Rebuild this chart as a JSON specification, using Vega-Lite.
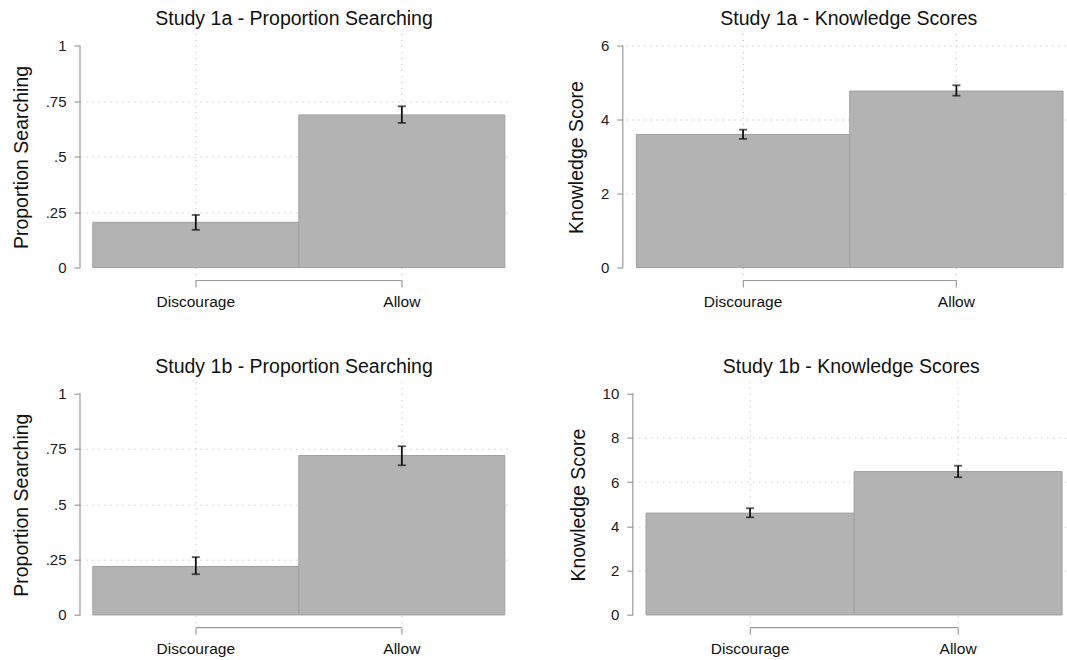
{
  "$schema": "https://vega.github.io/schema/vega-lite/v6.json",
  "datasets": {
    "bars": [
      {"panel": "1a_prop", "group": "Discourage", "mean": 0.204, "lo": 0.170, "hi": 0.237},
      {"panel": "1a_prop", "group": "Allow", "mean": 0.688, "lo": 0.652, "hi": 0.727},
      {"panel": "1a_know", "group": "Discourage", "mean": 3.60, "lo": 3.48, "hi": 3.73},
      {"panel": "1a_know", "group": "Allow", "mean": 4.775, "lo": 4.65, "hi": 4.93},
      {"panel": "1b_prop", "group": "Discourage", "mean": 0.219, "lo": 0.184, "hi": 0.261},
      {"panel": "1b_prop", "group": "Allow", "mean": 0.720, "lo": 0.676, "hi": 0.762},
      {"panel": "1b_know", "group": "Discourage", "mean": 4.60, "lo": 4.41, "hi": 4.82},
      {"panel": "1b_know", "group": "Allow", "mean": 6.475, "lo": 6.22, "hi": 6.74}
    ]
  },
  "padding": {"left": 10.5, "top": 8.5, "right": 0, "bottom": 0},
  "spacing": 47.2,
  "vconcat": [
    {
      "spacing": 49.3,
      "hconcat": [
        {
          "width": 431, "height": 247,
          "title": {"text": "Study 1a - Proportion Searching", "dx": -7},
          "data": {"name": "bars"},
          "transform": [{"filter": "datum.panel == '1a_prop'"}],
          "encoding": {
            "x": {"field": "group", "type": "nominal", "sort": ["Discourage", "Allow"],
                  "scale": {"paddingInner": 0, "paddingOuter": 0.046, "align": 0.385}}
          },
          "layer": [
            {"mark": {"type": "bar", "fill": "#b3b3b3", "stroke": "#a0a0a0", "strokeWidth": 1},
             "encoding": {
               "y": {"field": "mean", "type": "quantitative", "title": "Proportion Searching",
                     "scale": {"domain": [-0.0585, 1.0553], "nice": false, "zero": false},
                     "axis": {"values": [0, 0.25, 0.5, 0.75, 1],
                              "gridOpacity": {"condition": {"test": "datum.value == 0 || datum.value == 1", "value": 0}, "value": 1}}},
               "y2": {"datum": 0}
             }},
            {"mark": {"type": "rule", "color": "#111111", "strokeWidth": 1.8},
             "encoding": {"y": {"field": "lo", "type": "quantitative"}, "y2": {"field": "hi"}}},
            {"mark": {"type": "tick", "color": "#111111", "thickness": 1.8},
             "encoding": {"y": {"field": "lo", "type": "quantitative"}, "size": {"value": 8}}},
            {"mark": {"type": "tick", "color": "#111111", "thickness": 1.8},
             "encoding": {"y": {"field": "hi", "type": "quantitative"}, "size": {"value": 8}}},
            {"transform": [{"filter": "datum.group == 'Allow'"}],
             "mark": {"type": "rule", "color": "#9a9a9a", "strokeWidth": 1.2},
             "encoding": {"x": {"datum": "Discourage"}, "x2": {"datum": "Allow"}, "y": {"value": "height"}}},
            {"transform": [{"filter": "datum.group == 'Allow'"}],
             "mark": {"type": "rule", "color": "#9a9a9a", "strokeWidth": 1.2, "xOffset": -5.5},
             "encoding": {"x": {"value": 0}, "y": {"datum": 0}, "y2": {"datum": 1}}}
          ]
        },
        {
          "width": 442, "height": 247,
          "title": {"text": "Study 1a - Knowledge Scores", "dx": 2},
          "data": {"name": "bars"},
          "transform": [{"filter": "datum.panel == '1a_know'"}],
          "encoding": {
            "x": {"field": "group", "type": "nominal", "sort": ["Discourage", "Allow"],
                  "scale": {"paddingInner": 0, "paddingOuter": 0.036, "align": 0.69}}
          },
          "layer": [
            {"mark": {"type": "bar", "fill": "#b3b3b3", "stroke": "#a0a0a0", "strokeWidth": 1},
             "encoding": {
               "y": {"field": "mean", "type": "quantitative", "title": "Knowledge Score",
                     "scale": {"domain": [-0.351, 6.332], "nice": false, "zero": false},
                     "axis": {"values": [0, 2, 4, 6], "offset": 3,
                              "gridOpacity": {"condition": {"test": "datum.value == 0", "value": 0}, "value": 1}}},
               "y2": {"datum": 0}
             }},
            {"mark": {"type": "rule", "color": "#111111", "strokeWidth": 1.8},
             "encoding": {"y": {"field": "lo", "type": "quantitative"}, "y2": {"field": "hi"}}},
            {"mark": {"type": "tick", "color": "#111111", "thickness": 1.8},
             "encoding": {"y": {"field": "lo", "type": "quantitative"}, "size": {"value": 8}}},
            {"mark": {"type": "tick", "color": "#111111", "thickness": 1.8},
             "encoding": {"y": {"field": "hi", "type": "quantitative"}, "size": {"value": 8}}},
            {"transform": [{"filter": "datum.group == 'Allow'"}],
             "mark": {"type": "rule", "color": "#9a9a9a", "strokeWidth": 1.2},
             "encoding": {"x": {"datum": "Discourage"}, "x2": {"datum": "Allow"}, "y": {"value": "height"}}},
            {"transform": [{"filter": "datum.group == 'Allow'"}],
             "mark": {"type": "rule", "color": "#9a9a9a", "strokeWidth": 1.2, "xOffset": -3},
             "encoding": {"x": {"value": 0}, "y": {"datum": 0}, "y2": {"datum": 6}}}
          ]
        }
      ]
    },
    {
      "spacing": 51.3,
      "hconcat": [
        {
          "width": 431, "height": 246,
          "title": {"text": "Study 1b - Proportion Searching", "dx": -7},
          "data": {"name": "bars"},
          "transform": [{"filter": "datum.panel == '1b_prop'"}],
          "encoding": {
            "x": {"field": "group", "type": "nominal", "sort": ["Discourage", "Allow"],
                  "scale": {"paddingInner": 0, "paddingOuter": 0.046, "align": 0.385}}
          },
          "layer": [
            {"mark": {"type": "bar", "fill": "#b3b3b3", "stroke": "#a0a0a0", "strokeWidth": 1},
             "encoding": {
               "y": {"field": "mean", "type": "quantitative", "title": "Proportion Searching",
                     "scale": {"domain": [-0.0575, 1.0535], "nice": false, "zero": false},
                     "axis": {"values": [0, 0.25, 0.5, 0.75, 1],
                              "gridOpacity": {"condition": {"test": "datum.value == 0 || datum.value == 1", "value": 0}, "value": 1}}},
               "y2": {"datum": 0}
             }},
            {"mark": {"type": "rule", "color": "#111111", "strokeWidth": 1.8},
             "encoding": {"y": {"field": "lo", "type": "quantitative"}, "y2": {"field": "hi"}}},
            {"mark": {"type": "tick", "color": "#111111", "thickness": 1.8},
             "encoding": {"y": {"field": "lo", "type": "quantitative"}, "size": {"value": 8}}},
            {"mark": {"type": "tick", "color": "#111111", "thickness": 1.8},
             "encoding": {"y": {"field": "hi", "type": "quantitative"}, "size": {"value": 8}}},
            {"transform": [{"filter": "datum.group == 'Allow'"}],
             "mark": {"type": "rule", "color": "#9a9a9a", "strokeWidth": 1.2},
             "encoding": {"x": {"datum": "Discourage"}, "x2": {"datum": "Allow"}, "y": {"value": "height"}}},
            {"transform": [{"filter": "datum.group == 'Allow'"}],
             "mark": {"type": "rule", "color": "#9a9a9a", "strokeWidth": 1.2, "xOffset": -5.5},
             "encoding": {"x": {"value": 0}, "y": {"datum": 0}, "y2": {"datum": 1}}}
          ]
        },
        {
          "width": 429, "height": 246,
          "title": {"text": "Study 1b - Knowledge Scores", "dx": -2},
          "data": {"name": "bars"},
          "transform": [{"filter": "datum.panel == '1b_know'"}],
          "encoding": {
            "x": {"field": "group", "type": "nominal", "sort": ["Discourage", "Allow"],
                  "scale": {"paddingInner": 0, "paddingOuter": 0.031, "align": 0.56}}
          },
          "layer": [
            {"mark": {"type": "bar", "fill": "#b3b3b3", "stroke": "#a0a0a0", "strokeWidth": 1},
             "encoding": {
               "y": {"field": "mean", "type": "quantitative", "title": "Knowledge Score",
                     "scale": {"domain": [-0.575, 10.535], "nice": false, "zero": false},
                     "axis": {"values": [0, 2, 4, 6, 8, 10], "offset": 6,
                              "gridOpacity": {"condition": {"test": "datum.value == 0 || datum.value == 10", "value": 0}, "value": 1}}},
               "y2": {"datum": 0}
             }},
            {"mark": {"type": "rule", "color": "#111111", "strokeWidth": 1.8},
             "encoding": {"y": {"field": "lo", "type": "quantitative"}, "y2": {"field": "hi"}}},
            {"mark": {"type": "tick", "color": "#111111", "thickness": 1.8},
             "encoding": {"y": {"field": "lo", "type": "quantitative"}, "size": {"value": 8}}},
            {"mark": {"type": "tick", "color": "#111111", "thickness": 1.8},
             "encoding": {"y": {"field": "hi", "type": "quantitative"}, "size": {"value": 8}}},
            {"transform": [{"filter": "datum.group == 'Allow'"}],
             "mark": {"type": "rule", "color": "#9a9a9a", "strokeWidth": 1.2},
             "encoding": {"x": {"datum": "Discourage"}, "x2": {"datum": "Allow"}, "y": {"value": "height"}}},
            {"transform": [{"filter": "datum.group == 'Allow'"}],
             "mark": {"type": "rule", "color": "#9a9a9a", "strokeWidth": 1.2, "xOffset": -6},
             "encoding": {"x": {"value": 0}, "y": {"datum": 0}, "y2": {"datum": 10}}}
          ]
        }
      ]
    }
  ],
  "config": {
    "font": "Liberation Sans",
    "view": {"stroke": null},
    "title": {"fontSize": 19.5, "fontWeight": "normal", "color": "#111111", "frame": "group", "anchor": "middle", "offset": 4},
    "axisY": {
      "offset": 5.5, "domain": false, "tickSize": 6, "tickColor": "#9a9a9a", "tickWidth": 1.2,
      "labelFontSize": 15, "labelColor": "#1a1a1a", "labelPadding": 8,
      "labelExpr": "replace(format(datum.value, '~g'), '0.', '.')",
      "titleFontSize": 19.5, "titleFontWeight": "normal", "titleColor": "#111111", "titlePadding": 14,
      "grid": true, "gridDash": [1, 5], "gridColor": "#b5b5b5", "gridWidth": 1
    },
    "axisX": {
      "domain": false, "tickSize": 6.5, "tickColor": "#9a9a9a", "tickWidth": 1.2,
      "labelAngle": 0, "labelFontSize": 15.5, "labelColor": "#111111", "labelPadding": 7,
      "title": null, "grid": true, "gridDash": [1, 5], "gridColor": "#b5b5b5", "gridWidth": 1
    }
  }
}
